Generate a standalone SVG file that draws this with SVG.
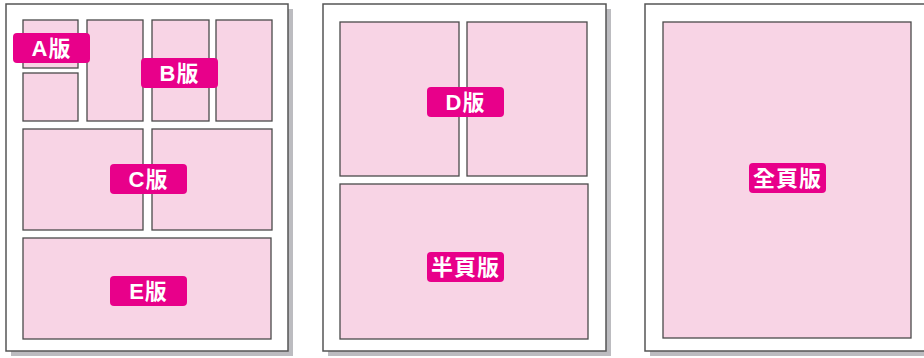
<svg xmlns="http://www.w3.org/2000/svg" width="924" height="358" viewBox="0 0 924 358">
<style>
.shadow{fill:#bcbcc0}
.page{fill:#ffffff;stroke:#555555;stroke-width:1.5}
.box{fill:#f8d4e5;stroke:#4a4a4a;stroke-width:1.3}
.tag{fill:#e8008a}
.lbl{fill:#ffffff;font-family:"Liberation Sans","Noto Sans CJK TC",sans-serif;font-weight:bold;font-size:22px;text-anchor:middle;dominant-baseline:central}
</style>
<rect width="924" height="358" fill="#ffffff"/>

<g id="page1">
  <rect class="shadow" x="11" y="9" width="282" height="347"/>
  <rect class="page" x="6" y="4" width="282" height="347"/>
</g>
<g id="page2">
  <rect class="shadow" x="328" y="9" width="283" height="347"/>
  <rect class="page" x="323" y="4" width="283" height="347"/>
</g>
<g id="page3">
  <rect class="shadow" x="650" y="9" width="283" height="347"/>
  <rect class="page" x="645" y="4" width="283" height="347"/>
</g>

<g id="panel-a1"><rect class="box" x="23" y="20" width="55" height="48"/></g>
<g id="panel-a2"><rect class="box" x="23" y="73" width="55" height="48"/></g>
<g id="panel-b1"><rect class="box" x="87" y="20" width="56" height="101"/></g>
<g id="panel-b2"><rect class="box" x="152" y="20" width="57" height="101"/></g>
<g id="panel-b3"><rect class="box" x="216" y="20" width="56" height="101"/></g>
<g id="panel-c1"><rect class="box" x="23" y="129" width="120" height="101"/></g>
<g id="panel-c2"><rect class="box" x="152" y="129" width="120" height="101"/></g>
<g id="panel-e"><rect class="box" x="23" y="238" width="248" height="101"/></g>

<g id="panel-d1"><rect class="box" x="340" y="22" width="119" height="154"/></g>
<g id="panel-d2"><rect class="box" x="467" y="22" width="120" height="154"/></g>
<g id="panel-half"><rect class="box" x="340" y="184" width="248" height="155"/></g>

<g id="panel-full"><rect class="box" x="663" y="22" width="248" height="316"/></g>

<g id="label-a"><rect class="tag" x="13" y="33" width="77" height="30" rx="4"/><text class="lbl" x="51.5" y="48" letter-spacing="1">A版</text></g>
<g id="label-b"><rect class="tag" x="141" y="58" width="77" height="30" rx="4"/><text class="lbl" x="179.5" y="73" letter-spacing="1">B版</text></g>
<g id="label-c"><rect class="tag" x="110" y="164" width="77" height="30" rx="4"/><text class="lbl" x="148.5" y="179" letter-spacing="1">C版</text></g>
<g id="label-e"><rect class="tag" x="110" y="276" width="77" height="30" rx="4"/><text class="lbl" x="148.5" y="291" letter-spacing="1">E版</text></g>
<g id="label-d"><rect class="tag" x="427" y="87" width="77" height="30" rx="4"/><text class="lbl" x="465.5" y="102" letter-spacing="1">D版</text></g>
<g id="label-half"><rect class="tag" x="427" y="252" width="77" height="30" rx="4"/><text class="lbl" x="465.5" y="267" letter-spacing="1">半頁版</text></g>
<g id="label-full"><rect class="tag" x="749" y="163" width="77" height="30" rx="4"/><text class="lbl" x="787.5" y="178" letter-spacing="1">全頁版</text></g>
</svg>
